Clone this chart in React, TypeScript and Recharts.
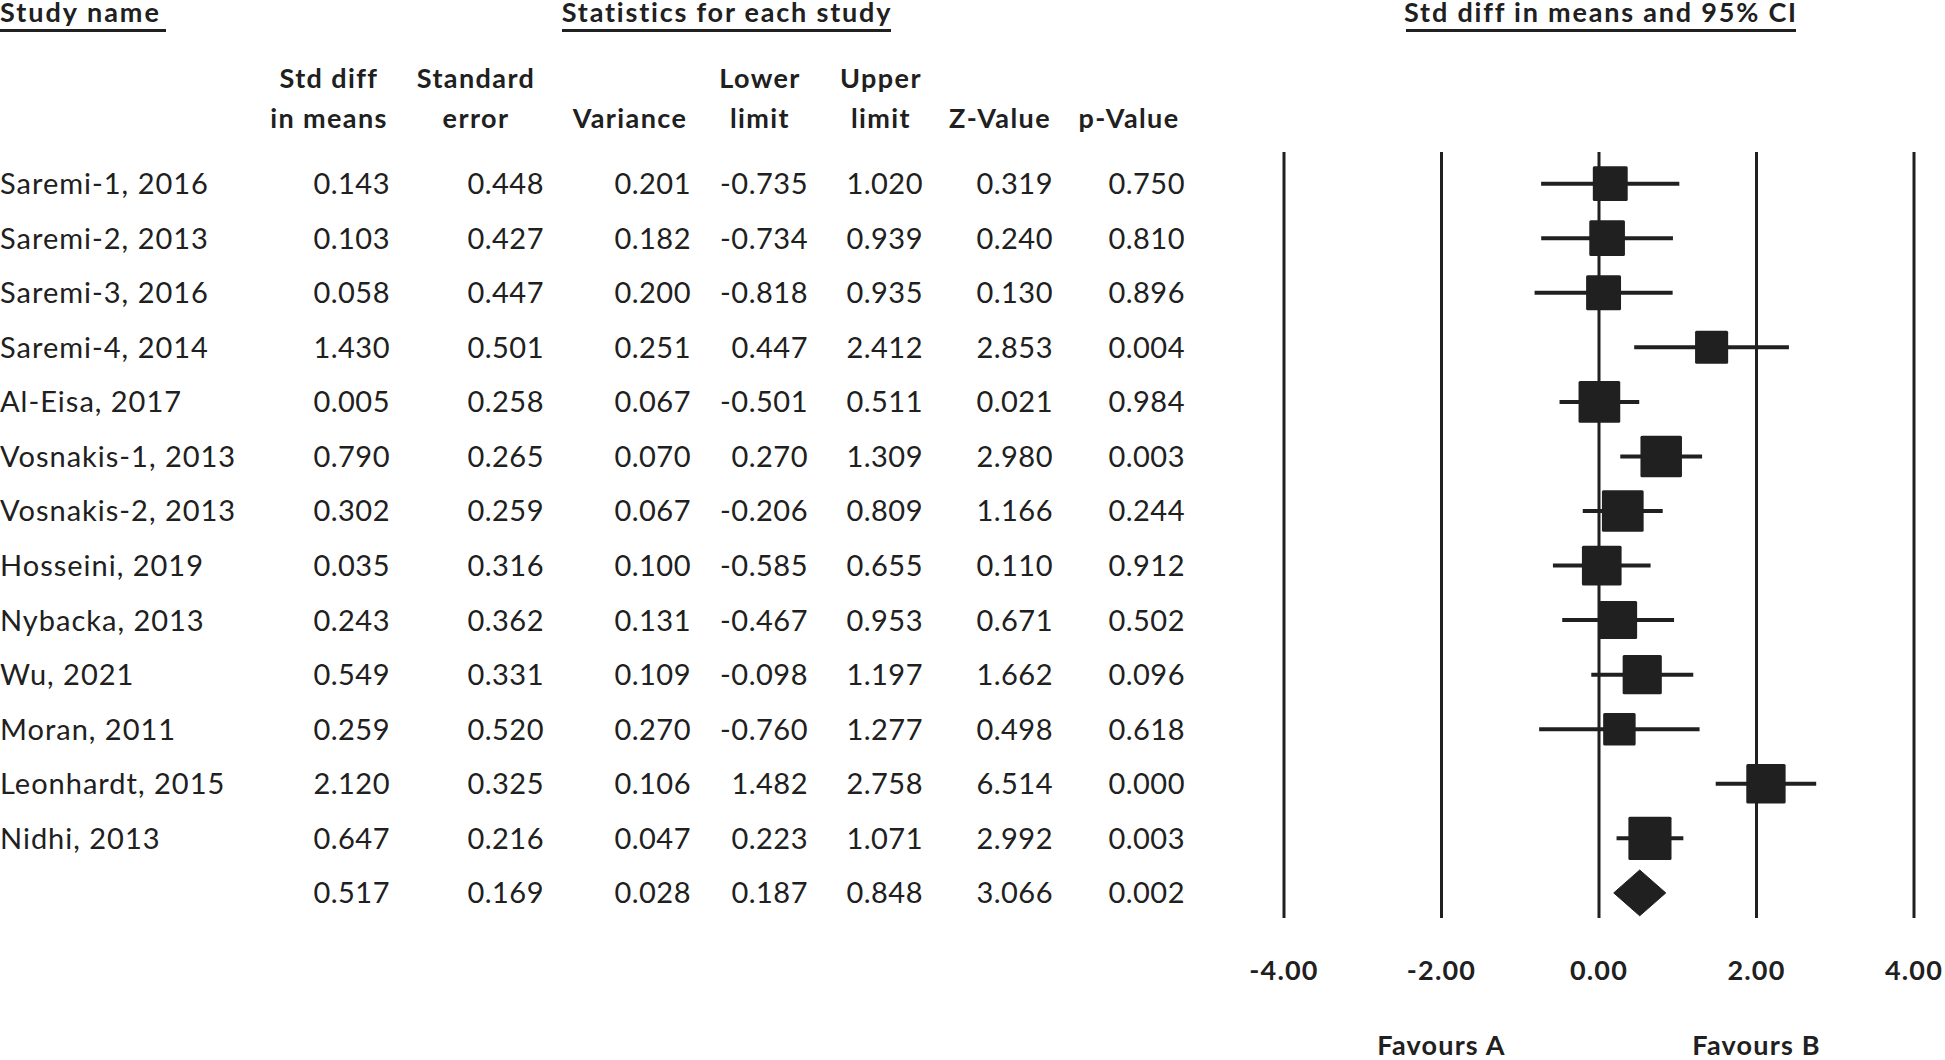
import {
  ComposedChart,
  Scatter,
  XAxis,
  YAxis,
  ErrorBar,
  ReferenceLine,
} from "recharts";

// study rows, top to bottom
const studyNames = [
  "Saremi-1, 2016",
  "Saremi-2, 2013",
  "Saremi-3, 2016",
  "Saremi-4, 2014",
  "Al-Eisa, 2017",
  "Vosnakis-1, 2013",
  "Vosnakis-2, 2013",
  "Hosseini, 2019",
  "Nybacka, 2013",
  "Wu, 2021",
  "Moran, 2011",
  "Leonhardt, 2015",
  "Nidhi, 2013",
];
const stdDiff = [0.143, 0.103, 0.058, 1.43, 0.005, 0.79, 0.302, 0.035, 0.243, 0.549, 0.259, 2.12, 0.647];
const stdError = [0.448, 0.427, 0.447, 0.501, 0.258, 0.265, 0.259, 0.316, 0.362, 0.331, 0.52, 0.325, 0.216];
const variance = [0.201, 0.182, 0.2, 0.251, 0.067, 0.07, 0.067, 0.1, 0.131, 0.109, 0.27, 0.106, 0.047];
const lowerLimit = [-0.735, -0.734, -0.818, 0.447, -0.501, 0.27, -0.206, -0.585, -0.467, -0.098, -0.76, 1.482, 0.223];
const upperLimit = [1.02, 0.939, 0.935, 2.412, 0.511, 1.309, 0.809, 0.655, 0.953, 1.197, 1.277, 2.758, 1.071];
const zValue = [0.319, 0.24, 0.13, 2.853, 0.021, 2.98, 1.166, 0.11, 0.671, 1.662, 0.498, 6.514, 2.992];
const pValue = [0.75, 0.81, 0.896, 0.004, 0.984, 0.003, 0.244, 0.912, 0.502, 0.096, 0.618, 0.0, 0.003];

// pooled (random effects) result, last row
const pooledStats = [0.517, 0.169, 0.028, 0.187, 0.848, 3.066, 0.002];

const xTicks = [-4, -2, 0, 2, 4];
const favourLabels = [
  { at: -2, text: "Favours A" },
  { at: 2, text: "Favours B" },
];

const INK = "#202020";
const FONT = "Lato, 'Open Sans', sans-serif";
const TAU2 = 0.245; // between-study variance, drives box weights
const BOX_SCALE = 23.3;
const DIAMOND_HALF = 0.42; // in row units

// right edges of the numeric columns
const COL_RIGHT = [390, 544, 691, 808, 923, 1053, 1185];

const tableRows = [
  ...studyNames.map((name, i) => ({
    name,
    values: [stdDiff[i], stdError[i], variance[i], lowerLimit[i], upperLimit[i], zValue[i], pValue[i]],
  })),
  { name: "", values: pooledStats },
];
const rowTicks = tableRows.map((_, i) => i);

const studyPoints = studyNames.map((name, i) => ({
  name,
  row: i,
  x: stdDiff[i],
  err: [stdDiff[i] - lowerLimit[i], upperLimit[i] - stdDiff[i]],
  size: BOX_SCALE * Math.sqrt(1 / (variance[i] + TAU2)),
}));

const pooledRow = studyNames.length;
const diamondPoints = [
  { row: pooledRow, x: pooledStats[3] },
  { row: pooledRow - DIAMOND_HALF, x: pooledStats[0] },
  { row: pooledRow, x: pooledStats[4] },
  { row: pooledRow + DIAMOND_HALF, x: pooledStats[0] },
];

const RowTick = (props: any) => {
  const { y, payload } = props;
  const row = tableRows[payload.value];
  if (!row) return null;
  const by = y + 10.5;
  return (
    <g fontFamily={FONT} fontSize={29} fill={INK}>
      <text x={0} y={by} letterSpacing={1}>{row.name}</text>
      {row.values.map((v, j) => (
        <text key={j} x={COL_RIGHT[j]} y={by} textAnchor="end" letterSpacing={0.5}>
          {v.toFixed(3)}
        </text>
      ))}
    </g>
  );
};

const ValueTick = (props: any) => {
  const { x, y, payload } = props;
  const fav = favourLabels.find((f) => f.at === payload.value);
  return (
    <g fontFamily={FONT} fontWeight={700} fontSize={27} fill={INK} letterSpacing={1.2}>
      <text x={x} y={y + 62} textAnchor="middle">
        {payload.value.toFixed(2)}
      </text>
      {fav && (
        <text x={x} y={y + 137} textAnchor="middle">
          {fav.text}
        </text>
      )}
    </g>
  );
};

const SquareMarker = (props: any) => {
  const { cx, cy, payload } = props;
  const s = payload.size;
  return <rect x={cx - s / 2} y={cy - s / 2} width={s} height={s} fill={INK} rx={1.5} />;
};

const Headers = () => {
  const h = { fontFamily: FONT, fontWeight: 700, fontSize: 27, fill: INK, letterSpacing: 1.4 } as const;
  const cols = [
    { cx: 329, top: "Std diff", bottom: "in means" },
    { cx: 476, top: "Standard", bottom: "error" },
    { cx: 630, top: "", bottom: "Variance" },
    { cx: 760, top: "Lower", bottom: "limit" },
    { cx: 881, top: "Upper", bottom: "limit" },
    { cx: 1000, top: "", bottom: "Z-Value" },
    { cx: 1129, top: "", bottom: "p-Value" },
  ];
  return (
    <svg
      width={1945}
      height={150}
      style={{ position: "absolute", left: 0, top: 0, pointerEvents: "none" }}
    >
      <g {...h}>
        <text x={0} y={22} letterSpacing={2}>Study name</text>
        <text x={727} y={22} textAnchor="middle" letterSpacing={1.8}>Statistics for each study</text>
        <text x={1601} y={22} textAnchor="middle" letterSpacing={1.8}>Std diff in means and 95% CI</text>
        {cols.map((c, i) => (
          <g key={i}>
            <text x={c.cx} y={88} textAnchor="middle">{c.top}</text>
            <text x={c.cx} y={128} textAnchor="middle">{c.bottom}</text>
          </g>
        ))}
      </g>
      <g stroke={INK} strokeWidth={3}>
        <line x1={0} x2={166} y1={30.5} y2={30.5} />
        <line x1={562} x2={891} y1={30.5} y2={30.5} />
        <line x1={1406} x2={1796} y1={30.5} y2={30.5} />
      </g>
    </svg>
  );
};

export default function App() {
  return (
    <div style={{ position: "absolute", left: 0, top: 0, width: 1945, height: 1060, background: "#fff" }}>
      <ComposedChart width={1945} height={1060} margin={{ top: 152, right: 31, bottom: 0, left: 0 }}>
        <XAxis
          type="number"
          dataKey="x"
          domain={[-4, 4]}
          ticks={xTicks}
          interval={0}
          allowDataOverflow
          height={142}
          tickSize={0}
          tickMargin={0}
          tickLine={false}
          axisLine={false}
          tick={<ValueTick />}
        />
        <YAxis
          type="number"
          dataKey="row"
          domain={[-0.58, 13.46]}
          reversed
          allowDataOverflow
          ticks={rowTicks}
          interval={0}
          width={1284}
          tickLine={false}
          axisLine={false}
          tick={<RowTick />}
        />
        {xTicks.map((t) => (
          <ReferenceLine key={t} x={t} stroke={INK} strokeWidth={3} />
        ))}
        <Scatter
          data={studyPoints}
          fill={INK}
          shape={<SquareMarker />}
          isAnimationActive={false}
        >
          <ErrorBar dataKey="err" direction="x" width={0} stroke={INK} strokeWidth={4} />
        </Scatter>
        <Scatter
          data={diamondPoints}
          fill={INK}
          shape={() => <g />}
          line={{ fill: INK, stroke: INK, strokeWidth: 1 }}
          lineType="joint"
          lineJointType="linearClosed"
          isAnimationActive={false}
        />
      </ComposedChart>
      <Headers />
    </div>
  );
}
